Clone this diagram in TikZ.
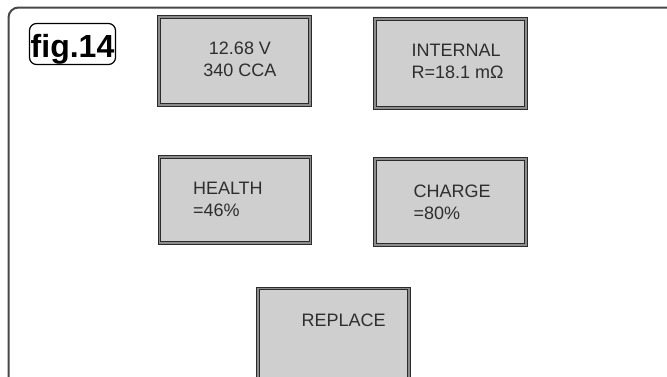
\documentclass[tikz,border=0pt]{standalone}
\usepackage{fontspec}
\setmainfont{Liberation Sans}
\usetikzlibrary{positioning, calc}
\definecolor{framegray}{HTML}{474747}
\definecolor{panelfill}{HTML}{CFCFCF}
\definecolor{panelline}{HTML}{2B2B2B}
\definecolor{inkgray}{HTML}{2E2E2E}

\begin{document}
\begin{tikzpicture}[x=1pt, y=-1pt,
    panel/.style={rectangle, draw=panelline, double=black!45, double distance=1.2pt,
        line width=1.3pt, fill=panelfill, inner sep=0pt, minimum width=151pt},
    reading/.style={inner sep=0pt, align=left, text=inkgray, font=\fontsize{18}{22}\selectfont}]
    \useasboundingbox (0,0) rectangle (667,376);
    % frame, cut off at the right and bottom edges
    \draw[framegray, line width=2pt, rounded corners=10pt] (8.5,380) -- (8.5,7.5) -- (672,7.5);
    \node[draw=black, line width=1.2pt, rounded corners=7pt, minimum width=86pt,
        inner sep=0.8pt, text height=32.7pt, text depth=6.7pt,
        font=\fontsize{32}{32}\selectfont\bfseries] (fig) at (72.5,44) {fig.14};

    % display screens
    \node[panel, minimum height=88pt] (volts) at (234.5,61) {};
    \node[panel, minimum height=89pt] (internal) at (450.5,63.5) {};
    \node[panel, minimum height=86pt] (health) at (235,200) {};
    \node[panel, minimum height=86pt] (charge) at (450.5,202) {};
    \node[panel, minimum height=91pt] (replace) at (333.5,334) {};

    % readings
    \node[reading, align=center, anchor=north] (volts text) at ($(volts.north)+(5.5,25)$) {12.68 V\\340 CCA};
    \node[reading, anchor=north west] (internal text) at ($(internal.north west)+(37,26)$) {INTERNAL\\R=18.1 mΩ};
    \node[reading, anchor=north west] (health text) at ($(health.north west)+(34,26)$) {HEALTH\\=46\%};
    \node[reading, anchor=north west] (charge text) at ($(charge.north west)+(39,26)$) {CHARGE\\=80\%};
    \node[reading, anchor=north west] (replace text) at ($(replace.north west)+(44,26)$) {REPLACE};
\end{tikzpicture}
\end{document}
